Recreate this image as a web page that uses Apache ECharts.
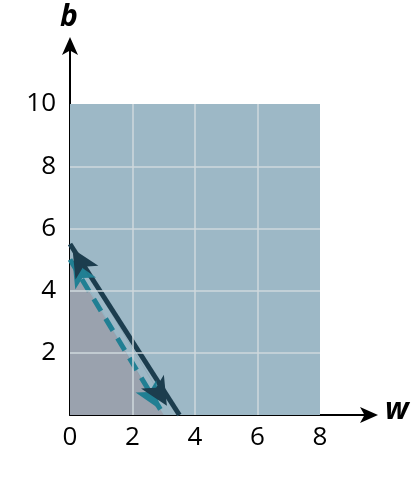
<!DOCTYPE html>
<html><head><meta charset="utf-8">
<script src="https://cdn.jsdelivr.net/npm/echarts@6/dist/echarts.min.js"></script>
<style>html,body{margin:0;background:#fff}#c{width:418px;height:485px}</style>
</head><body><div id="c"></div>
<script>
const xTicks = [2, 4, 6, 8];
const yTicks = [2, 4, 6, 8, 10];
const region = [[0, 0], [8, 0], [8, 10], [0, 10]];
const shaded = [[0, 0], [0, 5], [3, 0]];
const solidLine = [[0, 5.5], [3.5, 0]];
const solidArrow = [[0.08, 5.35], [3.1, 0.3]];
const dashedLine = [[0, 5], [3, 0]];
const dashedArrow = [[0.08, 4.95], [2.85, 0.2]];

const chart = echarts.init(document.getElementById('c'));
const font = 'Open Sans';
const gridLines = xTicks.filter(v => v < 8).map(v => [{coord: [v, 0]}, {coord: [v, 10]}])
  .concat(yTicks.filter(v => v < 10).map(v => [{coord: [0, v]}, {coord: [8, v]}]));

chart.setOption({
  animation: false,
  grid: {left: 70, right: 48, top: 45, bottom: 70},
  xAxis: {
    type: 'value', min: 0, max: 9.6, interval: 2,
    axisLine: {lineStyle: {color: '#000', width: 2}, symbol: ['none', 'arrow'], symbolSize: [12, 18], symbolOffset: [0, 8]},
    axisTick: {show: false}, splitLine: {show: false},
    axisLabel: {color: '#000', fontSize: 26, fontFamily: font, margin: 10,
      formatter: v => (v <= 8 ? String(v) : ''), showMaxLabel: false}
  },
  yAxis: {
    type: 'value', min: 0, max: 11.9, interval: 2,
    axisLine: {show: true, lineStyle: {color: '#000', width: 2}, symbol: ['none', 'arrow'], symbolSize: [12, 18], symbolOffset: [0, 8]},
    axisTick: {show: false}, splitLine: {show: false},
    axisLabel: {color: '#000', fontSize: 26, fontFamily: font, margin: 14,
      formatter: v => (v > 0 && v <= 10 ? String(v) : ''), showMaxLabel: false}
  },
  graphic: [
    {type: 'text', left: 385, top: 395, style: {text: 'w', font: 'italic bold 30px "Open Sans"', fill: '#000'}},
    {type: 'text', left: 60, top: 2, style: {text: 'b', font: 'italic bold 30px "Open Sans"', fill: '#000'}}
  ],
  series: [
    {type: 'line', data: region.concat([region[0]]), symbol: 'none', lineStyle: {width: 0},
      areaStyle: {color: '#9db8c6', opacity: 1}, z: 1,
      markLine: {silent: true, symbol: 'none', label: {show: false},
        lineStyle: {color: '#cfd8dd', width: 1.5, type: 'solid'}, data: gridLines}},
    {type: 'line', data: shaded.concat([shaded[0]]), symbol: 'none', lineStyle: {width: 0},
      areaStyle: {color: '#9aa2ae', opacity: 1}, z: 2},
    {type: 'line', data: dashedLine, symbol: 'none', lineStyle: {width: 5, type: [14, 9], color: '#217f93'}, z: 3,
      markLine: {silent: true, symbol: ['arrow', 'arrow'], symbolSize: [18, 26], label: {show: false},
        lineStyle: {width: 0.1, color: '#217f93', type: 'solid'},
        data: [[{coord: dashedArrow[0]}, {coord: dashedArrow[1]}]]}},
    {type: 'line', data: solidLine, symbol: 'none', lineStyle: {width: 5, color: '#1c3d4e'}, z: 4,
      markLine: {silent: true, symbol: ['arrow', 'arrow'], symbolSize: [20, 28], label: {show: false},
        lineStyle: {width: 0.1, color: '#1c3d4e', type: 'solid'},
        data: [[{coord: solidArrow[0]}, {coord: solidArrow[1]}]]}}
  ]
});
</script></body></html>
